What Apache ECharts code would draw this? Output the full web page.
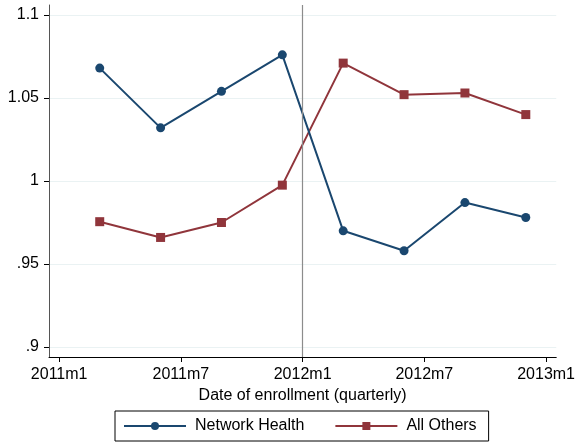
<!DOCTYPE html>
<html>
<head>
<meta charset="utf-8">
<script src="https://cdn.jsdelivr.net/npm/echarts@6/dist/echarts.min.js"></script>
<style>
  html, body { margin: 0; padding: 0; background: #fff; }
  #chart { width: 578px; height: 442px; }
</style>
</head>
<body>
<div id="chart"></div>
<script>
// Enrollment month (Stata monthly index, 612 = 2011m1), one point per quarter
const months = [614, 617, 620, 623, 626, 629, 632, 635];
const networkHealth = [1.068, 1.032, 1.054, 1.076, 0.970, 0.958, 0.987, 0.978];
const allOthers = [0.9755, 0.966, 0.975, 0.9975, 1.071, 1.052, 1.053, 1.040];

const xTickValues = [612, 618, 624, 630, 636];
const xTickLabels = ['2011m1', '2011m7', '2012m1', '2012m7', '2013m1'];
const yTickValues = [0.9, 0.95, 1, 1.05, 1.1];
const yTickLabels = ['.9', '.95', '1', '1.05', '1.1'];
const policyMonth = 624;

const FONT = '"Liberation Sans", Arial, sans-serif';
const pair = (xs, ys) => xs.map((x, i) => [x, ys[i]]);

const chart = echarts.init(document.getElementById('chart'), null, { renderer: 'canvas' });
chart.setOption({
  animation: false,
  backgroundColor: '#ffffff',
  textStyle: { fontFamily: FONT },
  grid: { left: 49, right: 21, top: 5, bottom: 85 },
  legend: {
    data: ['Network Health', 'All Others'],
    left: 115, top: 411,
    orient: 'horizontal',
    itemWidth: 62, itemHeight: 10, itemGap: 30,
    padding: [7, 12, 7, 8],
    borderColor: '#000', borderWidth: 1, borderRadius: 0,
    textStyle: { fontFamily: FONT, fontSize: 16, color: '#000', padding: [0, 0, 0, 4] }
  },
  xAxis: {
    type: 'value',
    min: 611.5, max: 636.5,
    name: 'Date of enrollment (quarterly)',
    nameLocation: 'middle',
    nameGap: 25,
    nameTextStyle: { fontFamily: FONT, fontSize: 16, color: '#000' },
    axisLine: { show: true, onZero: false, lineStyle: { color: '#000', width: 1 } },
    axisTick: { show: true, length: 5, customValues: xTickValues, lineStyle: { color: '#000' } },
    axisLabel: {
      customValues: xTickValues,
      margin: 10,
      fontFamily: FONT, fontSize: 16, color: '#000',
      formatter: v => xTickLabels[xTickValues.indexOf(v)] ?? ''
    },
    splitLine: { show: false }
  },
  yAxis: {
    type: 'value',
    min: 0.894, max: 1.106,
    axisLine: { show: true, onZero: false, lineStyle: { color: '#555', width: 1 } },
    axisTick: { show: true, length: 5, customValues: yTickValues, lineStyle: { color: '#000' } },
    axisLabel: {
      customValues: yTickValues,
      margin: 10,
      fontFamily: FONT, fontSize: 16, color: '#000',
      formatter: v => {
        const i = yTickValues.findIndex(t => Math.abs(t - v) < 1e-9);
        return i >= 0 ? yTickLabels[i] : '';
      }
    },
    splitLine: { show: true, lineStyle: { color: '#eaf2f3', width: 1 } }
  },
  series: [
    {
      name: 'policy',
      type: 'line',
      data: [],
      z: 1,
      silent: true,
      markLine: {
        silent: true,
        symbol: 'none',
        label: { show: false },
        lineStyle: { color: '#8c8c8c', width: 1.2, type: 'solid' },
        data: [{ xAxis: policyMonth }]
      }
    },
    {
      name: 'Network Health',
      type: 'line',
      z: 3,
      data: pair(months, networkHealth),
      symbol: 'circle',
      symbolSize: 9,
      showAllSymbol: true,
      color: '#1a476f',
      itemStyle: { color: '#1a476f' },
      lineStyle: { color: '#1a476f', width: 2 }
    },
    {
      name: 'All Others',
      type: 'line',
      z: 2,
      data: pair(months, allOthers),
      symbol: 'rect',
      symbolSize: 9,
      showAllSymbol: true,
      color: '#90353b',
      itemStyle: { color: '#90353b' },
      lineStyle: { color: '#90353b', width: 2 }
    }
  ]
});
</script>
</body>
</html>
